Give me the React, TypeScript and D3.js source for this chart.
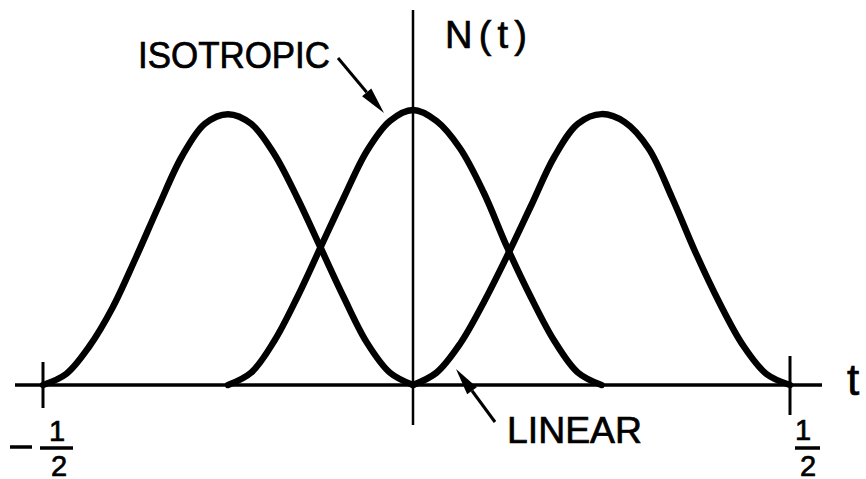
import React from "react";
import * as d3 from "d3";

const W = 866;
const H = 479;

// Parameter values at which each basis function was sampled (step 1/32).
const tLeft = d3.range(17).map((k) => -0.5 + k / 32);
const tMiddle = d3.range(17).map((k) => -0.25 + k / 32);
const tRight = d3.range(17).map((k) => k / 32);

// Sampled N(t) values (middle peak = 1).
const nLeft = [0, 0.04, 0.14, 0.28, 0.46, 0.65, 0.83, 0.95, 0.985, 0.95, 0.84, 0.68, 0.5, 0.32, 0.155, 0.045, 0];
const nMiddle = [0, 0.045, 0.16, 0.32, 0.5, 0.68, 0.85, 0.96, 1.0, 0.96, 0.86, 0.7, 0.5, 0.32, 0.16, 0.045, 0];
const nRight = [0, 0.045, 0.15, 0.3, 0.47, 0.65, 0.83, 0.95, 0.985, 0.955, 0.86, 0.68, 0.48, 0.3, 0.145, 0.04, 0];

const xTicks = [-0.5, 0.5];

const FONT = "'Liberation Sans', Arial, sans-serif";

function Arrow({ x1, y1, x2, y2 }: { x1: number; y1: number; x2: number; y2: number }) {
  const ang = Math.atan2(y2 - y1, x2 - x1);
  const len = 27;
  const hw = 6;
  const bx = x2 - len * Math.cos(ang);
  const by = y2 - len * Math.sin(ang);
  const px = -Math.sin(ang) * hw;
  const py = Math.cos(ang) * hw;
  return (
    <g>
      <line x1={x1} y1={y1} x2={bx} y2={by} stroke="#000" strokeWidth={3} />
      <path d={`M${x2},${y2}L${bx + px},${by + py}L${bx - px},${by - py}Z`} fill="#000" />
    </g>
  );
}

export default function App() {
  const x = d3.scaleLinear().domain([-0.5, 0, 0.5]).range([43, 413, 790]);
  const y = d3.scaleLinear().domain([0, 1]).range([385, 110]);

  const line = d3
    .line<[number, number]>()
    .x((d) => x(d[0]))
    .y((d) => y(d[1]))
    .curve(d3.curveCatmullRom.alpha(0.5));

  const curves = [
    d3.zip(tLeft, nLeft) as [number, number][],
    d3.zip(tMiddle, nMiddle) as [number, number][],
    d3.zip(tRight, nRight) as [number, number][],
  ];

  const textStyle = { stroke: "#000", strokeWidth: 0.7 };

  return (
    <svg
      width={W}
      height={H}
      viewBox={`0 0 ${W} ${H}`}
      style={{ position: "absolute", left: 0, top: 0, background: "#fff" }}
      fontFamily={FONT}
    >
      <rect width={W} height={H} fill="#fff" />
      {/* t axis */}
      <line x1={15} y1={y(0)} x2={822} y2={y(0)} stroke="#000" strokeWidth={3.5} />
      {/* N(t) axis */}
      <line x1={x(0)} y1={10} x2={x(0)} y2={425} stroke="#000" strokeWidth={2.5} />
      {/* end ticks */}
      <line x1={x(xTicks[0])} y1={362} x2={x(xTicks[0])} y2={408} stroke="#000" strokeWidth={3} />
      <line x1={x(xTicks[1])} y1={356} x2={x(xTicks[1])} y2={415} stroke="#000" strokeWidth={3} />

      {curves.map((c, i) => (
        <path key={i} d={line(c) ?? ""} fill="none" stroke="#000" strokeWidth={6.5} strokeLinecap="round" />
      ))}

      {/* labels */}
      <text x={445} y={48} fontSize={38} textLength={82} lengthAdjust="spacing" {...textStyle}>N(t)</text>
      <text x={847} y={395} fontSize={44} {...textStyle}>t</text>
      <text x={138} y={68} fontSize={36} textLength={192} lengthAdjust="spacingAndGlyphs" {...textStyle}>ISOTROPIC</text>
      <text x={507} y={443} fontSize={37} textLength={135} lengthAdjust="spacingAndGlyphs" {...textStyle}>LINEAR</text>

      <Arrow x1={338} y1={58} x2={384} y2={113} />
      <Arrow x1={495} y1={422} x2={456} y2={369} />

      {/* -1/2 */}
      <line x1={10} y1={447} x2={32} y2={447} stroke="#000" strokeWidth={3.5} />
      <text x={57} y={441} fontSize={29} textAnchor="middle" {...textStyle}>1</text>
      <line x1={40} y1={448} x2={73} y2={448} stroke="#000" strokeWidth={3.5} />
      <text x={59} y={476} fontSize={29} textAnchor="middle" {...textStyle}>2</text>
      {/* 1/2 */}
      <text x={803} y={440} fontSize={29} textAnchor="middle" {...textStyle}>1</text>
      <line x1={795} y1={448} x2={820} y2={448} stroke="#000" strokeWidth={3.5} />
      <text x={808} y={476} fontSize={29} textAnchor="middle" {...textStyle}>2</text>
    </svg>
  );
}
